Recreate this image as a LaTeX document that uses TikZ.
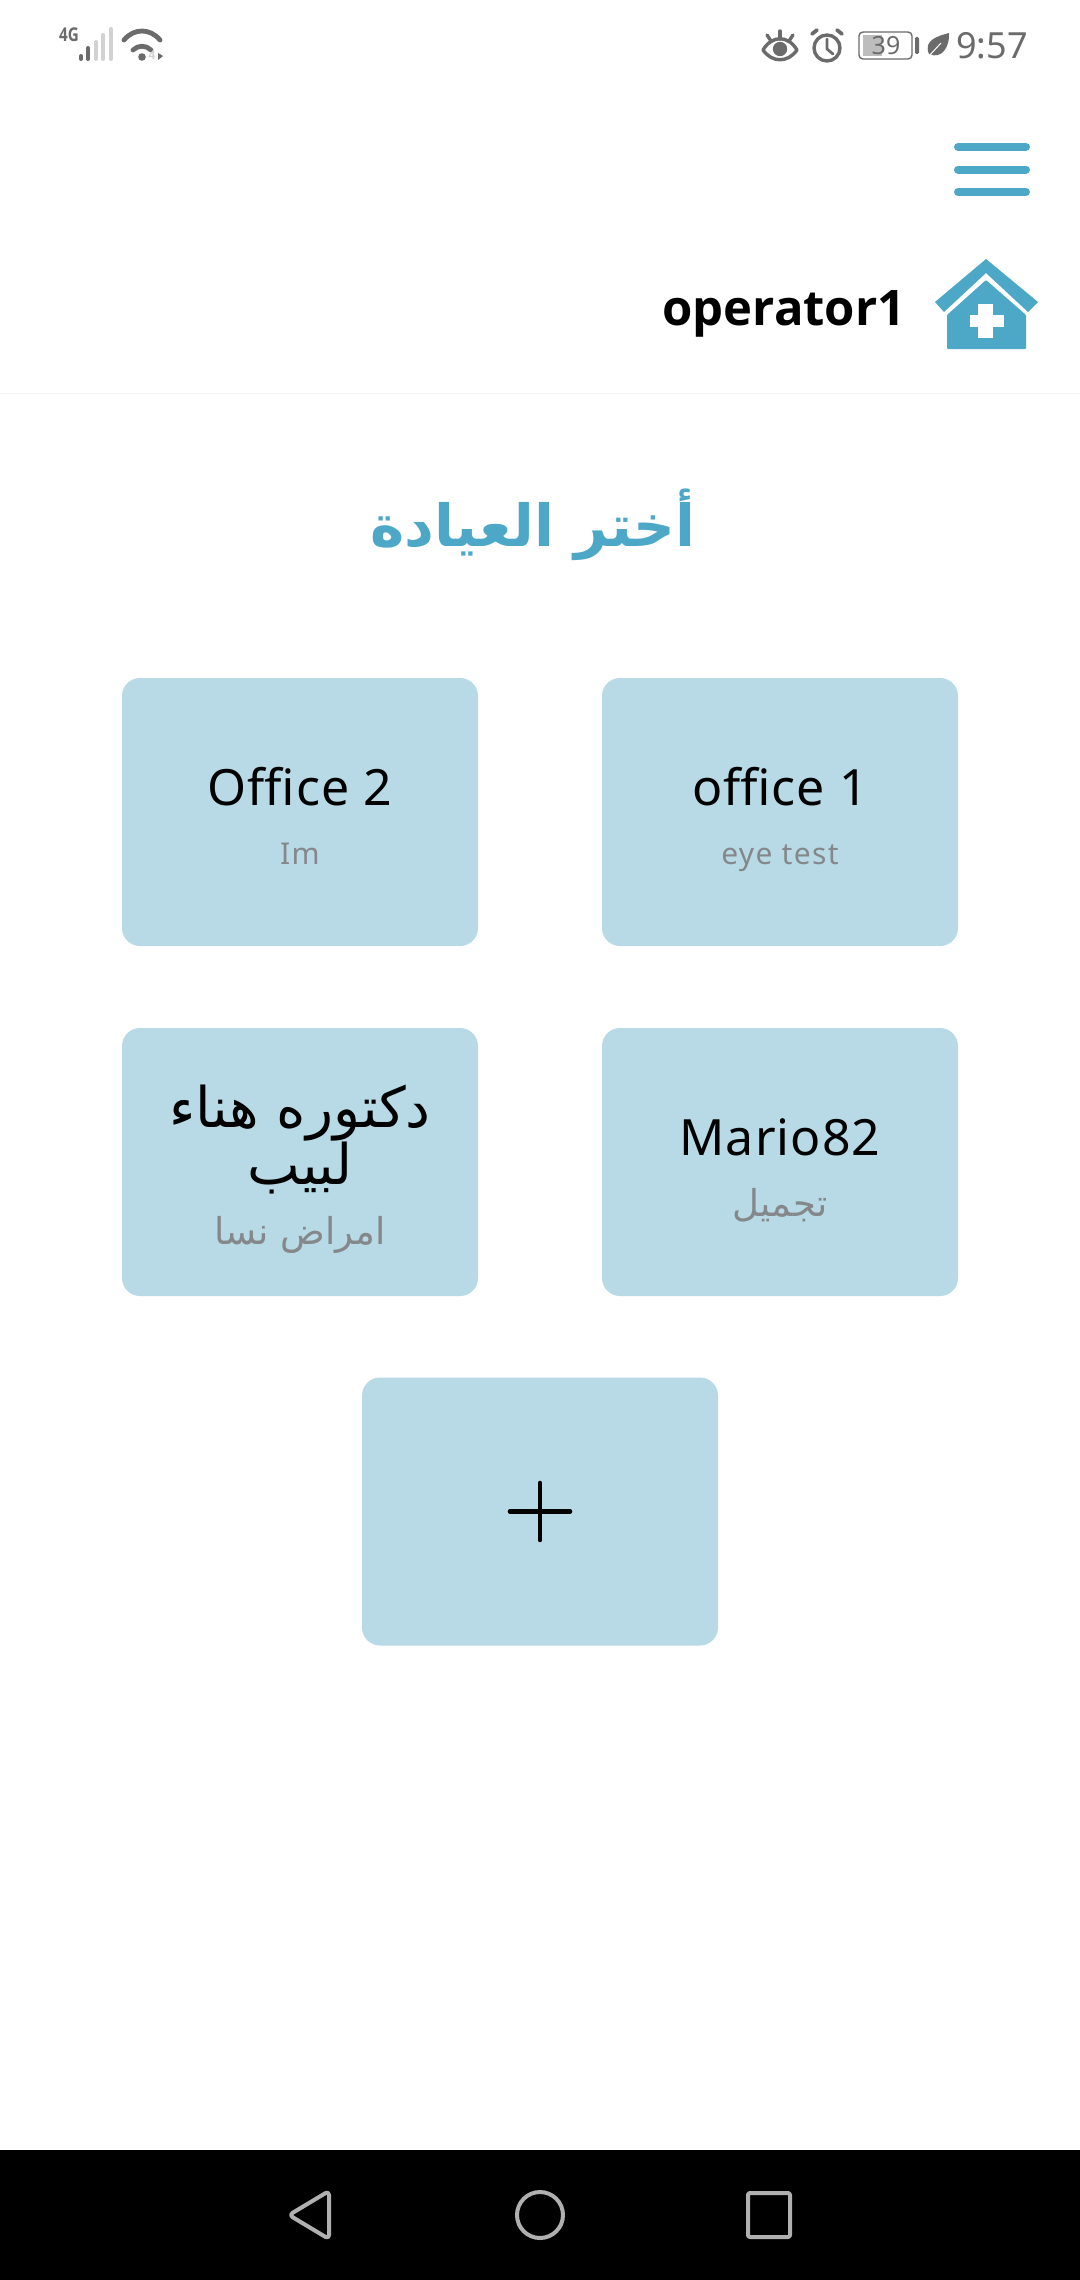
\documentclass[tikz,border=0pt]{standalone}
\usepackage{fontspec}
\TeXXeTstate=1
\setmainfont{Noto Sans}
\newfontfamily\arabicfont[Script=Arabic]{DejaVu Sans}
\newfontfamily\spaced[LetterSpace=2.2]{Noto Sans}
\newfontfamily\subspaced[LetterSpace=4.5]{Noto Sans}
\newfontfamily\heavy{Open Sans}
\definecolor{cardblue}{HTML}{B8DAE6}
\definecolor{brandblue}{HTML}{4DA8C8}
\definecolor{subgray}{HTML}{85888B}
\definecolor{statusgray}{HTML}{6B6B6B}
\definecolor{lightbar}{HTML}{D2D2D2}
\definecolor{navgray}{HTML}{B0B0B0}
\tikzset{
  card/.style={fill=cardblue,rounded corners=9pt},
  txt/.style={inner sep=0pt,anchor=base},
  cardtitle/.style={txt,text=black,font=\spaced\fontsize{25}{30}\selectfont},
  cardsub/.style={txt,text=subgray,font=\subspaced\fontsize{15}{18}\selectfont},
  artitle/.style={txt,text=black,font=\arabicfont\fontsize{28}{34}\selectfont},
  arsub/.style={txt,text=subgray,font=\arabicfont\fontsize{18.5}{22}\selectfont},
  statusline/.style={draw=statusgray,line cap=round,line join=round},
  navicon/.style={draw=navgray,line width=2pt,line join=round},
  menubar/.style={draw=brandblue,line width=4pt,line cap=round},
}
\begin{document}
\begin{tikzpicture}[x=0.5pt,y=-0.5pt]
\useasboundingbox (0,0) rectangle (1080,2280);
\fill[white] (0,0) rectangle (1080,2280);

% status bar, left
\node[txt,text=statusgray,font=\heavy\bfseries\fontsize{9.5}{11}\selectfont,xscale=0.8] (fourg) at (69,42) {4G};
\foreach \x/\t/\c in {81/55/statusgray,88/47/statusgray,96/41/lightbar,103/34/lightbar,111/28/lightbar}
  \draw[\c,line width=2pt,line cap=round] (\x,\t+1) -- (\x,59);
\draw[statusline,line width=2.4pt] (124,40) .. controls (134,28) and (150,28) .. (160,40);
\draw[statusline,line width=2.4pt] (133,50) .. controls (138,45) and (146,45) .. (151,50);
\fill[statusgray] (142,57) circle (1.9pt);
\node[txt,text=lightbar,font=\heavy\bfseries\fontsize{6}{7}\selectfont] (wifi4) at (152,60) {4};
\fill[statusgray] (158,53) -- (163,56) -- (158,60) -- cycle;

% status bar, right: eye
\draw[statusline,line width=1.7pt] (763,50) .. controls (772,35) and (788,35) .. (797,50) .. controls (788,63) and (772,63) .. (763,50) -- cycle;
\fill[statusgray] (780,49) circle (3.6pt);
\draw[statusline,line width=1.7pt] (780,31) -- (780,39);
\draw[statusline,line width=1.7pt] (767,35) -- (771,41);
\draw[statusline,line width=1.7pt] (793,35) -- (789,41);
% alarm
\draw[statusline,line width=1.7pt] (827,48) circle (6.5pt);
\draw[statusline,line width=1.4pt] (827,39) -- (827,49) -- (833,54);
\draw[statusline,line width=1.9pt] (812,34) -- (817,30);
\draw[statusline,line width=1.9pt] (842,34) -- (837,30);
% battery
\draw[statusgray,line width=0.7pt,rounded corners=2pt] (859,32) rectangle (912,59);
\fill[lightbar!90!black] (863,35) rectangle (882,56);
\node[txt,text=statusgray,font=\fontsize{12.5}{15}\selectfont] (batt) at (886,55) {39};
\fill[statusgray,rounded corners=0.7pt] (915,37) rectangle (919,54);
% leaf
\fill[statusgray] (929,54) .. controls (923,40) and (938,36) .. (949,33) .. controls (950,46) and (942,60) .. (929,54) -- cycle;
\draw[white,line width=0.5pt] (929,56) -- (941,43);
\node[txt,text=statusgray,font=\fontsize{18}{22}\selectfont] (clock) at (992,59) {9:57};

% menu
\draw[menubar] (958,147) -- (1026,147);
\draw[menubar] (958,169.5) -- (1026,169.5);
\draw[menubar] (958,192) -- (1026,192);

% header
\node[txt,text=black,font=\heavy\bfseries\fontsize{24.5}{30}\selectfont] (user) at (784,325) {operator1};
\fill[brandblue,line join=round] (986,259) -- (1038,302) -- (1028,312) -- (986,273) -- (944,312) -- (935,302) -- cycle;
\fill[brandblue,rounded corners=0.5pt] (986,280) -- (1026,315) -- (1026,349) -- (947,349) -- (947,315) -- cycle;
\fill[white] (978,304) rectangle (993,338);
\fill[white] (970,315) rectangle (1004,327);
\draw[black!4,line width=0.5pt] (0,393) -- (1080,393);

% title
\node[txt,text=brandblue,font=\arabicfont\bfseries\fontsize{29}{34}\selectfont] (title) at (533,546) {\beginR أختر العيادة\endR};

% cards
\node[card,minimum width=178pt,minimum height=134pt] (c1) at (300,812) {};
\node[card,minimum width=178pt,minimum height=134pt] (c2) at (780,812) {};
\node[card,minimum width=178pt,minimum height=134pt] (c3) at (300,1162) {};
\node[card,minimum width=178pt,minimum height=134pt] (c4) at (780,1162) {};
\node[card,minimum width=178pt,minimum height=134pt] (c5) at (540,1511.5) {};

\node[cardtitle] (t1) at (300,805) {Office 2};
\node[cardsub] (s1) at (300,864) {Im};
\node[cardtitle] (t2) at (780,805) {office 1};
\node[cardsub] (s2) at (780,864) {eye test};
\node[artitle] (t3a) at (300,1127) {\beginR دكتوره هناء\endR};
\node[artitle] (t3b) at (300,1184) {\beginR لبيب\endR};
\node[arsub] (s3) at (300,1244) {\beginR امراض نسا\endR};
\node[cardtitle] (t4) at (780,1155) {Mario82};
\node[arsub] (s4) at (780,1216) {\beginR تجميل\endR};

\draw[black,line width=2.3pt,line cap=round] (510,1511.5) -- (570,1511.5);
\draw[black,line width=2.3pt,line cap=round] (540,1483) -- (540,1540);

% nav bar
\fill[black] (0,2150) rectangle (1080,2280);
\draw[navicon,rounded corners=2pt] (329,2191) -- (289,2215) -- (329,2239) -- cycle;
\draw[navicon] (540,2215) circle (11.5pt);
\draw[navicon,rounded corners=1pt] (748,2193) rectangle (790,2237);
\end{tikzpicture}
\end{document}
